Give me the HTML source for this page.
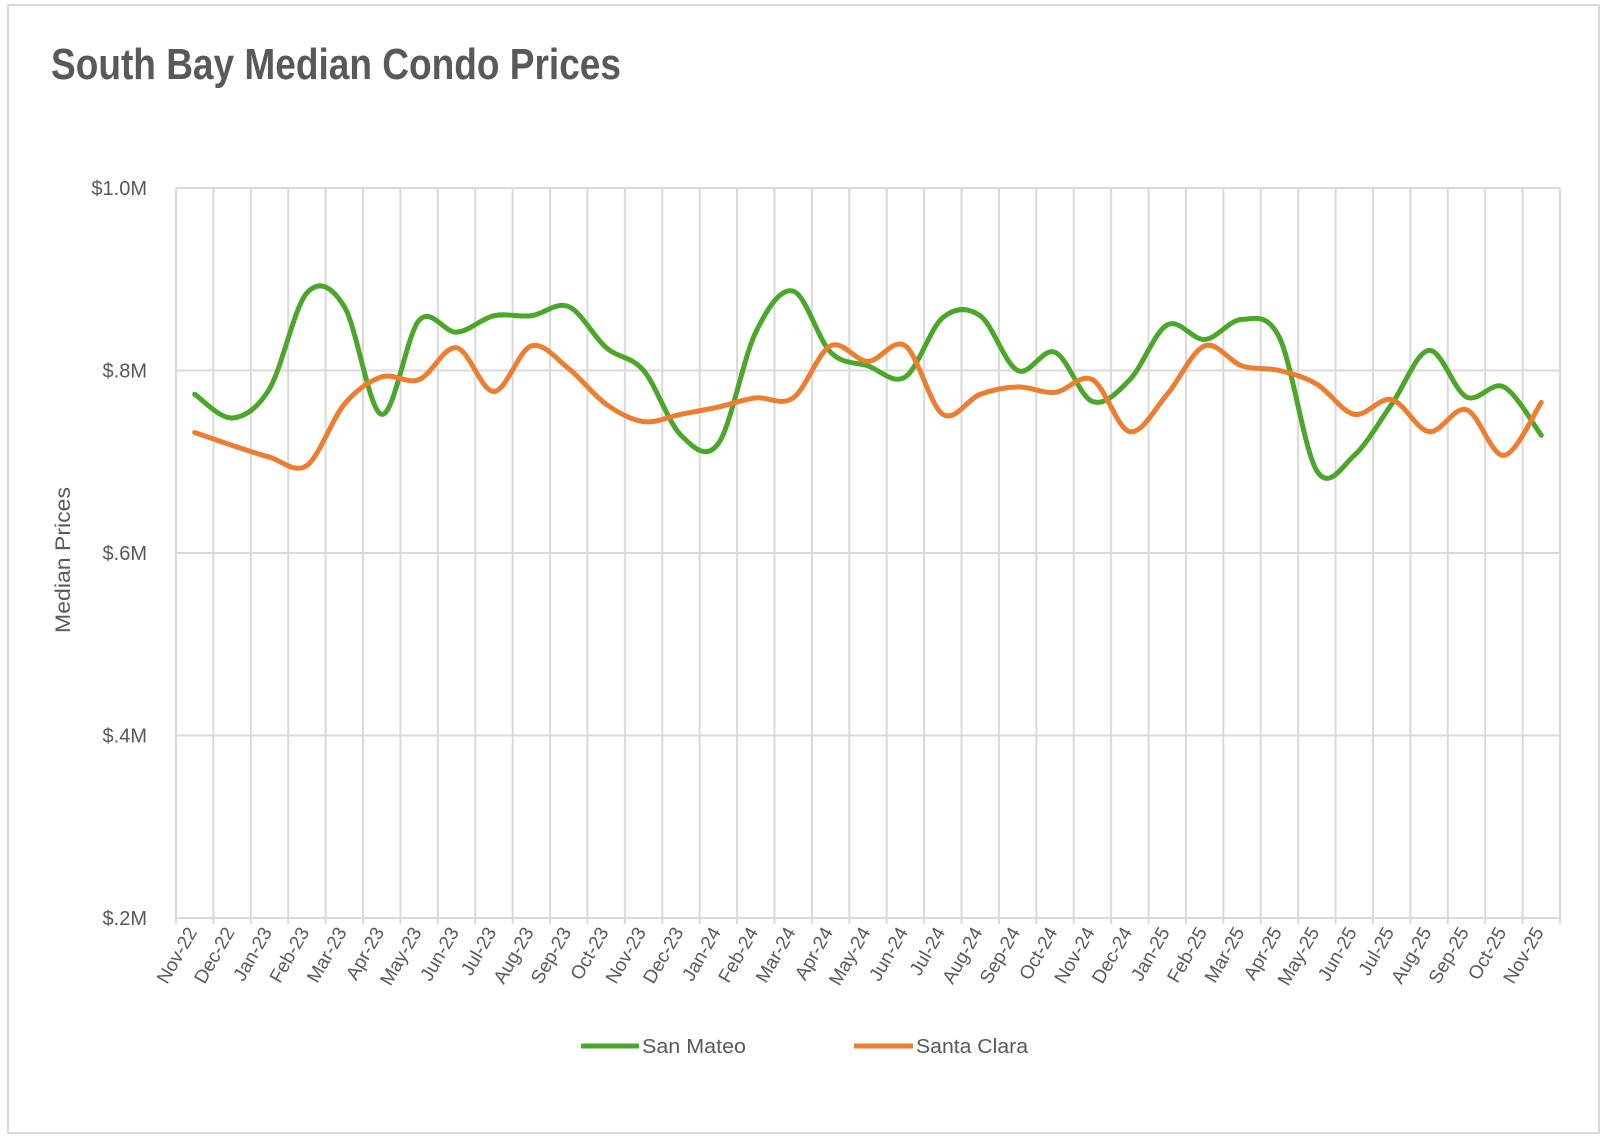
<!DOCTYPE html>
<html><head><meta charset="utf-8"><style>
html,body{margin:0;padding:0;background:#fff;}
svg{display:block;font-family:"Liberation Sans",Arial,sans-serif;}
</style></head><body>
<svg id="chart" width="1604" height="1140" viewBox="0 0 1604 1140" xmlns="http://www.w3.org/2000/svg">
<rect x="8" y="5" width="1591" height="1128" fill="#fff" stroke="#d9d9d9" stroke-width="2"/>
<text x="51" y="79" font-size="44" font-weight="bold" fill="#595959" textLength="570" lengthAdjust="spacingAndGlyphs">South Bay Median Condo Prices</text>
<g id="grid"></g>
<g id="yaxis"></g>
<g id="xaxis"></g>
<g id="series"></g>
<text transform="translate(70,560) rotate(-90)" text-anchor="middle" font-size="21" fill="#595959" textLength="146" lengthAdjust="spacingAndGlyphs">Median Prices</text>
<g>
<g>
<line x1="581" y1="1046" x2="639" y2="1046" stroke="#4aa72a" stroke-width="5"/>
<text x="642" y="1053" font-size="20" fill="#595959" textLength="104" lengthAdjust="spacingAndGlyphs">San Mateo</text>
</g>
<g>
<line x1="854" y1="1046" x2="913" y2="1046" stroke="#ed7d31" stroke-width="5"/>
<text x="916" y="1053" font-size="20" fill="#595959" textLength="112" lengthAdjust="spacingAndGlyphs">Santa Clara</text>
</g>
</g>
</svg>
<script>
const categories = ["Nov-22","Dec-22","Jan-23","Feb-23","Mar-23","Apr-23","May-23","Jun-23","Jul-23","Aug-23","Sep-23","Oct-23","Nov-23","Dec-23","Jan-24","Feb-24","Mar-24","Apr-24","May-24","Jun-24","Jul-24","Aug-24","Sep-24","Oct-24","Nov-24","Dec-24","Jan-25","Feb-25","Mar-25","Apr-25","May-25","Jun-25","Jul-25","Aug-25","Sep-25","Oct-25","Nov-25"];
const sanMateo = [0.774,0.748,0.78,0.885,0.87,0.752,0.855,0.842,0.86,0.86,0.87,0.825,0.80,0.729,0.72,0.842,0.887,0.82,0.805,0.793,0.858,0.86,0.80,0.82,0.766,0.79,0.85,0.834,0.856,0.836,0.69,0.707,0.763,0.822,0.771,0.782,0.729];
const santaClara = [0.732,0.718,0.705,0.696,0.763,0.793,0.79,0.825,0.777,0.827,0.802,0.763,0.744,0.752,0.76,0.77,0.77,0.827,0.81,0.827,0.752,0.774,0.782,0.776,0.79,0.733,0.774,0.827,0.805,0.80,0.785,0.752,0.768,0.733,0.757,0.707,0.765];
const yTicks = [0.2,0.4,0.6,0.8,1.0];
const yTickLabels = ["$.2M","$.4M","$.6M","$.8M","$1.0M"];

const NS = "http://www.w3.org/2000/svg";
const L = 176, R = 1560, T = 188, B = 918, yMin = 0.2, yMax = 1.0;
const band = (R - L) / categories.length;
const xPos = i => L + band * (i + 0.5);
const yPos = v => B - (v - yMin) / (yMax - yMin) * (B - T);
function mk(tag, attrs, parent) {
  const e = document.createElementNS(NS, tag);
  for (const k in attrs) e.setAttribute(k, attrs[k]);
  parent.appendChild(e);
  return e;
}
const grid = document.getElementById("grid");
const yaxis = document.getElementById("yaxis");
const xaxis = document.getElementById("xaxis");
const series = document.getElementById("series");

yTicks.forEach((v, i) => {
  const y = yPos(v);
  const gl = mk("line", {x1: L, x2: R, y1: y, y2: y, stroke: "#d9d9d9", "stroke-width": 2}, grid);
  
  
  const t = mk("text", {x: 147, y: y + 7, "text-anchor": "end", "font-size": 20, fill: "#595959"}, yaxis);
  
  
  t.textContent = yTickLabels[i];
});
for (let i = 0; i <= categories.length; i++) {
  const x = L + band * i;
  const vl = mk("line", {x1: x, x2: x, y1: T, y2: B + 6, stroke: "#d9d9d9", "stroke-width": 2}, grid);
  
  
}
categories.forEach((c, i) => {
  const x = xPos(i) + 3;
  const t = mk("text", {transform: `translate(${x},${B + 14}) rotate(-60)`, "text-anchor": "end", "font-size": 19, fill: "#595959"}, xaxis);
  
  
  t.textContent = c;
});
function smoothPath(vals) {
  const p = vals.map((v, i) => [xPos(i), yPos(v)]);
  let d = `M${p[0][0]},${p[0][1]}`;
  for (let i = 0; i < p.length - 1; i++) {
    const p0 = p[Math.max(0, i - 1)], p1 = p[i], p2 = p[i + 1], p3 = p[Math.min(p.length - 1, i + 2)];
    const t = 1 / 6;
    const c1 = [p1[0] + (p2[0] - p0[0]) * t, p1[1] + (p2[1] - p0[1]) * t];
    const c2 = [p2[0] - (p3[0] - p1[0]) * t, p2[1] - (p3[1] - p1[1]) * t];
    d += ` C${c1[0]},${c1[1]} ${c2[0]},${c2[1]} ${p2[0]},${p2[1]}`;
  }
  return d;
}
const sm = mk("path", {d: smoothPath(sanMateo), fill: "none", stroke: "#4aa72a", "stroke-width": 5, "stroke-linejoin": "round", "stroke-linecap": "round"}, series);


const sc = mk("path", {d: smoothPath(santaClara), fill: "none", stroke: "#ed7d31", "stroke-width": 5, "stroke-linejoin": "round", "stroke-linecap": "round"}, series);


</script>
</body></html>
